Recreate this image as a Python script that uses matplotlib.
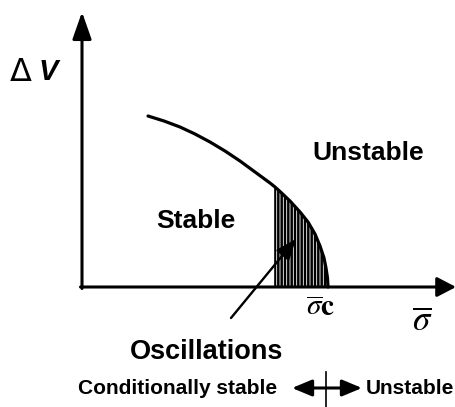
import matplotlib
matplotlib.use("Agg")
import matplotlib.pyplot as plt
import numpy as np

plt.rcParams['font.family'] = ['Liberation Sans', 'DejaVu Sans']
plt.rcParams['mathtext.fontset'] = 'stix'
plt.rcParams['hatch.linewidth'] = 1.8

# everything lives in pixel space of the 456x407 canvas (y grows downward)
# stability boundary
curve_x = [148, 164, 180, 195, 210, 225, 240, 255, 270, 275, 280, 290, 300,
           308, 315, 320, 324, 326, 327.5, 328]
curve_y = [116, 121, 127, 134, 142, 151, 161, 172, 183, 187, 191.5, 201, 212,
           222, 234, 246, 258, 268, 278, 287]
osc_start = 275

origin = (82, 287)
y_axis_top = (82, 12)
x_axis_end = (456, 287)

pointer_from = (231, 318)
pointer_to = (296, 239)

bottom_arrow_y = 388
bottom_left = 292
bottom_right = 362
divider_x = 326

fig = plt.figure(figsize=(4.56, 4.07), dpi=100)
ax = fig.add_axes([0, 0, 1, 1])
ax.set_xlim(0, 456)
ax.set_ylim(407, 0)
ax.axis('off')

# axes with arrowheads
ax.annotate('', xy=y_axis_top, xytext=(origin[0], origin[1] + 1.5),
            arrowprops=dict(arrowstyle='-|>,head_length=1.65,head_width=0.58',
                            mutation_scale=10, lw=2.2, color='black', shrinkA=0, shrinkB=0))
ax.annotate('', xy=x_axis_end, xytext=(origin[0] - 1.5, origin[1]),
            arrowprops=dict(arrowstyle='-|>,head_length=1.15,head_width=0.6',
                            mutation_scale=10, lw=2.2, color='black', shrinkA=0, shrinkB=0))

# boundary curve
ax.plot(curve_x, curve_y, color='black', lw=2.3, solid_capstyle='round',
        solid_joinstyle='round')

# hatched oscillation region
cx = np.array(curve_x)
cy = np.array(curve_y)
sel = cx >= osc_start
ax.fill_between(cx[sel], cy[sel], origin[1], facecolor='white', edgecolor='black',
                hatch='|' * 5, lw=0)
ax.plot([osc_start, osc_start], [cy[sel][0], origin[1]], color='black', lw=1.2)

# pointer to the oscillation region
ax.annotate('', xy=pointer_to, xytext=pointer_from,
            arrowprops=dict(arrowstyle='-|>,head_length=1.25,head_width=0.5',
                            mutation_scale=10, lw=1.7, color='black', shrinkA=0, shrinkB=0))

# bottom legend arrow
ax.annotate('', xy=(bottom_right, bottom_arrow_y), xytext=(bottom_left, bottom_arrow_y),
            arrowprops=dict(arrowstyle='<|-|>,head_length=1.2,head_width=0.5',
                            mutation_scale=10, lw=2.2, color='black', shrinkA=0, shrinkB=0))
ax.plot([divider_x, divider_x], [372, 407], color='black', lw=1.2)

# labels
ax.text(10, 81, 'Δ', fontsize=23, ha='left', va='baseline', family='DejaVu Sans')
ax.text(39, 80, 'V', fontsize=21, ha='left', va='baseline', fontweight='bold', style='italic')
ax.text(196, 221, 'Stable', fontsize=19, fontweight='bold', ha='center', va='center')
ax.text(368, 153, 'Unstable', fontsize=19, fontweight='bold', ha='center', va='center')
ax.text(207, 352, 'Oscillations', fontsize=19.5, fontweight='bold', ha='center', va='center')
ax.text(178, 389, 'Conditionally stable', fontsize=15, fontweight='bold', ha='center', va='center')
ax.text(366, 389, 'Unstable', fontsize=15, fontweight='bold', ha='left', va='center')
ax.text(306, 316, r'$\overline{\sigma}\mathbf{c}$', fontsize=21, ha='left', va='baseline')
ax.text(422, 330, r'$\overline{\sigma}$', fontsize=25, ha='center', va='baseline')

fig.savefig('out.png', dpi=100)
